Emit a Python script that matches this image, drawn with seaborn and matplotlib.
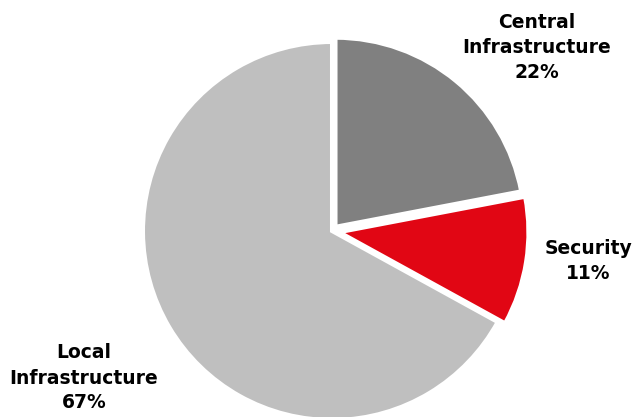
import matplotlib
matplotlib.use("Agg")
import matplotlib.pyplot as plt
import seaborn as sns

categories = ["Central\nInfrastructure", "Security", "Local\nInfrastructure"]
shares = [22, 11, 67]
colors = ["#808080", "#E10614", "#BFBFBF"]

sns.set_theme(style="white")
plt.rcParams['font.family'] = ['DejaVu Sans']

fig = plt.figure(figsize=(6.37, 4.17), dpi=100)
ax = fig.add_axes([0, 0, 1, 1])

wedges, _ = ax.pie(shares, colors=sns.color_palette(colors), startangle=90, counterclock=False,
                   center=(332, 186), radius=189, explode=[5.5, 7.5, 0.0],
                   wedgeprops=dict(edgecolor="white", linewidth=2.9), frame=True)
ax.set_xlim(0, 637)
ax.set_ylim(0, 417)
ax.axis("off")

label_pos = [(537, 370), (588, 156), (84, 39)]
for cat, val, (x, y) in zip(categories, shares, label_pos):
    ax.text(x, y, f"{cat}\n{val}%", ha="center", va="center", fontsize=13.5,
            fontweight="bold", linespacing=1.4, color="#000000")

fig.savefig("out.png", dpi=100)
